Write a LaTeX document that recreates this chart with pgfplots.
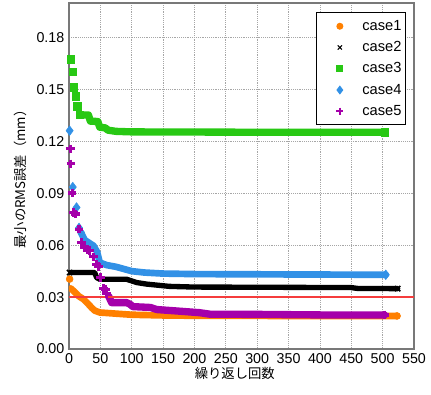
\documentclass[border=0pt]{standalone}
\usepackage{fontspec}
\setmainfont{Liberation Sans}
\newfontfamily\jp{Noto Sans CJK JP}
\usepackage{pgfplots}
\pgfplotsset{compat=1.18}
\usetikzlibrary{calc}
\definecolor{orangeC}{RGB}{255,128,0}
\definecolor{greenC}{RGB}{40,200,20}
\definecolor{blueC}{RGB}{50,145,230}
\definecolor{purpleC}{RGB}{165,0,170}
\definecolor{redC}{RGB}{245,60,60}
\definecolor{frameC}{RGB}{120,120,120}
\begin{document}
\begin{tikzpicture}
\begin{axis}[
  scale only axis,
  width=258.75pt, height=259.5pt,
  xmin=0, xmax=550, ymin=0, ymax=0.2,
  xtick={0,50,...,550},
  ytick={0,0.03,0.06,0.09,0.12,0.15,0.18},
  scaled y ticks=false,
  yticklabel style={/pgf/number format/.cd, fixed, fixed zerofill, precision=2},
  /pgf/number format/assume math mode=true,
  tick label style={font=\fontsize{10.7}{12}\selectfont},
  major tick length=0pt,
  grid=major,
  grid style={densely dotted, gray!70, line width=0.6pt},
  axis line style={draw=frameC, line width=0.8pt},
  every axis x label/.style={at={(axis description cs:0.5,0)}, yshift=-18pt, xshift=-5pt, anchor=center},
  every axis y label/.style={at={(axis description cs:0,0.5)}, xshift=-36.75pt, rotate=90, anchor=center},
  xlabel={\jp\fontsize{10}{12}\selectfont 繰り返し回数},
  ylabel={\jp\fontsize{10}{12}\selectfont 最小のRMS誤差（mm）},
  legend style={at={(0.977,0.973)}, anchor=north east, draw=black, line width=0.8pt,
    font=\fontsize{11}{13}\selectfont, inner xsep=1pt, inner ysep=3.5pt, row sep=2.8pt,
    /tikz/every even column/.append style={column sep=4pt}},
  legend cell align=left,
  legend image code/.code={\path (0pt,0pt) (30.5pt,0pt); \draw plot coordinates {(16pt,0pt)};},
]
\coordinate (bl) at (rel axis cs:0,0);
\coordinate (tr) at (rel axis cs:1,1);

% bands
\addplot[forget plot, draw=orangeC, line width=5pt, line cap=round, line join=round] coordinates {
(3,0.0350)(10,0.0326)(15,0.0307)(23,0.0288)(31,0.0259)(36,0.0239)(41,0.0222)(49,0.0211)(80,0.0203)(100,0.0198)(150,0.0194)(200,0.0192)(350,0.0191)(523,0.0191)};
\addplot[forget plot, draw=black, line width=4pt, line cap=round, line join=round] coordinates {
(1,0.0442)(41,0.0442)(44,0.0413)(49,0.0403)(92,0.0403)(108,0.0384)(124,0.0375)(160,0.0362)(200,0.0358)(300,0.0357)(450,0.0355)(460,0.0350)(524,0.0349)};
\addplot[forget plot, draw=greenC, line width=5.5pt, line cap=round, line join=round] coordinates {
(17,0.1353)(31,0.1353)(34,0.1317)(46,0.1315)(49,0.1282)(58,0.1278)(62,0.1265)(75,0.1258)(100,0.1255)(300,0.1253)(503,0.1253)};
\addplot[forget plot, draw=blueC, line width=5pt, line cap=round, line join=round] coordinates {
(19,0.0674)(25,0.0630)(31,0.0616)(39,0.0597)(45,0.0560)(49,0.0500)(60,0.0485)(75,0.0475)(90,0.0460)(100,0.0450)(120,0.0442)(150,0.0436)(200,0.0433)(350,0.0431)(505,0.0429)};
\addplot[forget plot, draw=purpleC, line width=5.5pt, line cap=round, line join=round] coordinates {
(63,0.0307)(68,0.0268)(92,0.0268)(97,0.0259)(102,0.0245)(130,0.0240)(140,0.0228)(171,0.0220)(208,0.0210)(225,0.0201)(305,0.0200)(400,0.0197)(503,0.0197)};

% isolated markers
\addplot[forget plot, only marks, mark=*, orangeC, mark size=2.6pt] coordinates {
(1,0.0404)(523,0.0191)};
\addplot[forget plot, only marks, mark=x, black, mark size=2.8pt, mark options={line width=1.2pt}] coordinates {
(1,0.0442)(524,0.0349)};
\addplot[forget plot, only marks, mark=square*, greenC, mark size=2.8pt] coordinates {
(3,0.1674)(6,0.1604)(8,0.1513)(11,0.1460)(13,0.1403)(17,0.1353)(503,0.1253)};
\addplot[forget plot, only marks, mark=diamond*, blueC, mark size=3.6pt] coordinates {
(1,0.1262)(6,0.0936)(12,0.0818)(16,0.0700)(19,0.0674)(505,0.0429)};
\addplot[forget plot, only marks, mark=+, purpleC, mark size=3.2pt, mark options={line width=2.4pt}] coordinates {
(2,0.1157)(3,0.1070)(5,0.0902)(7,0.0790)(10,0.0780)(16,0.0693)(20,0.0616)(25,0.0587)(29,0.0575)(33,0.0568)(39,0.0533)(44,0.0490)(47,0.0477)(50,0.0413)(55,0.0350)(58,0.0346)(60,0.0320)(503,0.0197)};

% threshold
\addplot[forget plot, draw=redC, line width=1.4pt] coordinates {(0,0.03)(550,0.03)};

\addlegendimage{only marks, mark=*, orangeC, mark size=2.2pt}
\addlegendimage{only marks, mark=x, black, mark size=2.2pt, mark options={line width=0.8pt}}
\addlegendimage{only marks, mark=square*, greenC, mark size=2.2pt}
\addlegendimage{only marks, mark=diamond*, blueC, mark size=2.8pt}
\addlegendimage{only marks, mark=+, purpleC, mark size=2.6pt, mark options={line width=1.8pt}}
\legend{case1,case2,case3,case4,case5}
\end{axis}
\pgfresetboundingbox
\path ($(bl)+(-51.75pt,-34.5pt)$) rectangle ($(tr)+(12.75pt,2.25pt)$);
\end{tikzpicture}
\end{document}
